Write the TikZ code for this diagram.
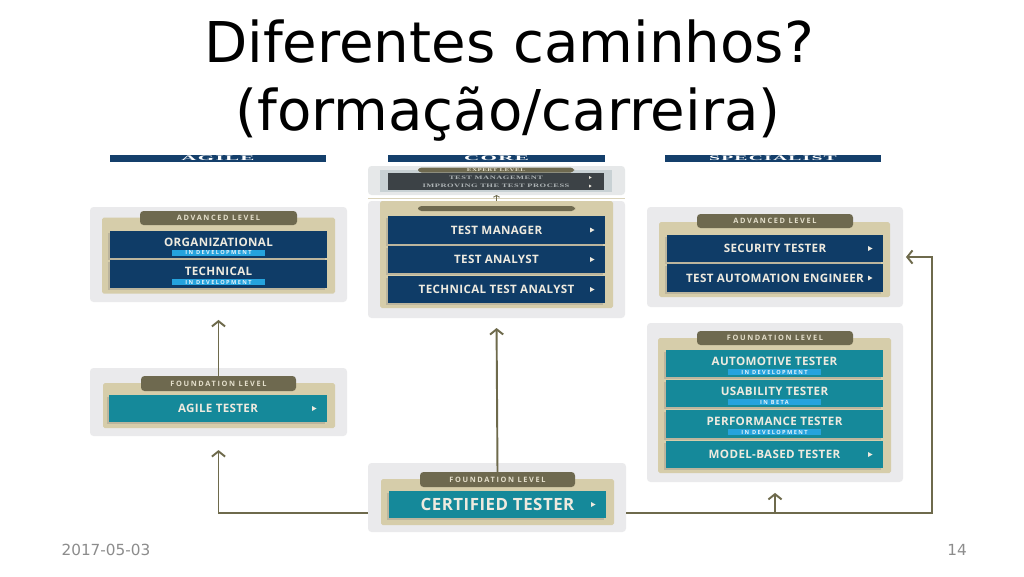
\documentclass[tikz,border=0pt]{standalone}
\usepackage{graphicx}
\usepackage{fontspec}
\setmainfont{DejaVu Sans}
\newfontfamily\rowfont[LetterSpace=3]{Open Sans}
\newfontfamily\tagfont[LetterSpace=22]{Open Sans}
\newfontfamily\pillfont[LetterSpace=25]{Open Sans}
\newfontfamily\trackfont[LetterSpace=6]{Liberation Serif}
\usetikzlibrary{arrows.meta,positioning,calc,shadows}
\definecolor{panelgray}{HTML}{EAEAEC}
\definecolor{traybeige}{HTML}{D6CDAA}
\definecolor{tagolive}{HTML}{6E694F}
\definecolor{tagink}{HTML}{E4DFCB}
\definecolor{rowblue}{HTML}{0F3C67}
\definecolor{rowteal}{HTML}{15899A}
\definecolor{rowink}{HTML}{EEEADF}
\definecolor{pillblue}{HTML}{25A3DD}
\definecolor{pillink}{HTML}{E2F2FA}
\definecolor{barblue}{HTML}{143F6B}
\definecolor{exppanel}{HTML}{E6E8E9}
\definecolor{expback}{HTML}{C8D1D4}
\definecolor{expgray}{HTML}{3C4246}
\definecolor{expink}{HTML}{AEB4B6}
\definecolor{sepbeige}{HTML}{D9D2BA}
\definecolor{linkolive}{HTML}{6E6A4C}
\definecolor{footgray}{HTML}{8C8C8C}
\tikzset{
  sz/.style 2 args={minimum width=#1*0.02cm,minimum height=#2*0.02cm,
                    inner sep=0pt,outer sep=0pt},
  titletext/.style={font=\fontsize{32}{38}\selectfont,text=black},
  foottext/.style={font=\fontsize{8.7}{10}\selectfont,text=footgray},
  panel/.style={fill=panelgray,rounded corners=2pt},
  tray/.style={fill=traybeige,rounded corners=1pt},
  lvltag/.style={fill=tagolive,rounded corners=2pt,text=tagink,
                 font=\tagfont\bfseries\fontsize{4.2}{5}\selectfont},
  advrow/.style={fill=rowblue,text=rowink,
                 font=\rowfont\bfseries\fontsize{6.6}{8}\selectfont,
                 drop shadow={shadow xshift=-1.2pt,shadow yshift=-1.2pt,opacity=0.3}},
  fndrow/.style={advrow,fill=rowteal},
  pill/.style={fill=pillblue,text=pillink,
               font=\pillfont\bfseries\fontsize{3.2}{3.6}\selectfont},
  trackbar/.style={fill=barblue,text=white,
                   font=\trackfont\bfseries\fontsize{4}{4}\selectfont},
  exprow/.style={fill=expgray,text=expink,
                 font=\trackfont\bfseries\fontsize{3}{3.5}\selectfont},
  link/.style={draw=linkolive,line width=1.1pt,
               -{Straight Barb[length=3pt,width=7.5pt]}}
}
% small triangle at the right end of a row
\newcommand{\rowtip}[2][2.5]{%
  \fill[rowink] ($(#2.east)+(-15,-#1)$) -- ++(0,2*#1) -- ++(1.8*#1,-#1) -- cycle;}
% row title lifted above its pill
\newcommand{\uptext}[1]{\raisebox{1.3pt}[\height][\depth]{#1}}

\begin{document}
\begin{tikzpicture}[x=0.02cm,y=-0.02cm]
  \fill[white] (0,0) rectangle (1024,576);
  \useasboundingbox (0,0) rectangle (1024,576);

  \node[titletext,anchor=base] (title1) at (509,62) {Diferentes caminhos?};
  \node[titletext,anchor=base] (title2) at (508,130) {(formação/carreira)};

  % track headers
  \node[trackbar,sz={216}{7}] (agilebar) at (218,158.5) {\scalebox{3}[1]{AGILE}};
  \node[trackbar,sz={217}{7}] (corebar) at (496.5,158.5) {\scalebox{3}[1]{CORE}};
  \node[trackbar,sz={216}{7}] (specbar) at (773,158.5) {\scalebox{2.8}[1]{SPECIALIST}};

  % agile
  \node[panel,sz={257}{95}] (agadv) at (218.5,254.5) {};
  \node[tray,sz={233}{76}] (agadvtray) at (218.5,255.5) {};
  \node[lvltag,sz={157}{14}] (agadvtag) at (218.5,218) {ADVANCED LEVEL};
  \node[advrow,sz={217}{27}] (orgrow) at (218.5,244.5) {\uptext{ORGANIZATIONAL}};
  \node[pill,sz={93}{6}] (orgpill) at (218.5,252.5) {IN DEVELOPMENT};
  \node[advrow,sz={217}{28}] (techrow) at (218.5,274) {\uptext{TECHNICAL}};
  \node[pill,sz={93}{6}] (techpill) at (218.5,282) {IN DEVELOPMENT};

  \node[panel,sz={257}{68}] (agfnd) at (218.5,402) {};
  \node[tray,sz={232}{45}] (agfndtray) at (219,405.5) {};
  \node[lvltag,sz={155}{15}] (agfndtag) at (218.5,383.5) {FOUNDATION LEVEL};
  \node[fndrow,sz={218}{27}] (agilerow) at (218,408.5) {AGILE TESTER};
  \rowtip{agilerow}

  % core
  \node[panel,fill=exppanel,sz={257}{29}] (expertpanel) at (496.5,180.5) {};
  \node[fill=expback,sz={232}{22}] (expertback) at (496,181) {};
  \node[lvltag,sz={156}{5},font=\trackfont\bfseries\fontsize{2.5}{3}\selectfont]
    (experttag) at (496,170) {\scalebox{1.6}[1]{EXPERT LEVEL}};
  \node[exprow,sz={216}{9}] (mgmtrow) at (496,177.5) {\scalebox{1.6}[1]{TEST MANAGEMENT}};
  \node[exprow,sz={216}{8}] (itprow) at (496,186) {\scalebox{1.6}[1]{IMPROVING THE TEST PROCESS}};
  \rowtip[1.5]{mgmtrow}
  \rowtip[1.5]{itprow}
  \draw[draw=sepbeige,line width=0.5pt] (368,198.5) -- (625,198.5);

  \node[panel,sz={257}{117}] (coremain) at (496.5,259.5) {};
  \node[tray,sz={233}{107}] (coretray) at (496.5,254.5) {};
  \node[lvltag,sz={157}{5}] (coretag) at (496.5,208.5) {};
  \node[advrow,sz={217}{28}] (mgrrow) at (496.5,230) {TEST MANAGER};
  \node[advrow,sz={217}{27}] (tarow) at (496.5,259.5) {TEST ANALYST};
  \node[advrow,sz={217}{27}] (ttarow) at (496.5,289.5) {TECHNICAL TEST ANALYST};
  \rowtip{mgrrow}
  \rowtip{tarow}
  \rowtip{ttarow}

  \node[panel,sz={258}{69}] (cert) at (497,497.5) {};
  \node[tray,sz={233}{46}] (certtray) at (497.5,502) {};
  \node[lvltag,sz={155}{15}] (certtag) at (497.5,479.5) {FOUNDATION LEVEL};
  \node[fndrow,sz={217}{27},font=\rowfont\bfseries\fontsize{9.6}{11}\selectfont]
    (certrow) at (497.5,504.5) {CERTIFIED TESTER};
  \rowtip{certrow}

  % specialist
  \node[panel,sz={256}{100}] (spadv) at (775,257) {};
  \node[tray,sz={231}{75}] (spadvtray) at (774.5,259.5) {};
  \node[lvltag,sz={156}{14}] (spadvtag) at (775,221) {ADVANCED LEVEL};
  \node[advrow,sz={216}{27}] (secrow) at (775,248.5) {SECURITY TESTER};
  \node[advrow,sz={216}{28}] (taerow) at (775,278) {TEST AUTOMATION ENGINEER};
  \rowtip{secrow}
  \rowtip{taerow}

  \node[panel,sz={256}{159}] (spfnd) at (775,402.5) {};
  \node[tray,sz={233}{135}] (spfndtray) at (774.5,405.5) {};
  \node[lvltag,sz={156}{14}] (spfndtag) at (775,338) {FOUNDATION LEVEL};
  \node[fndrow,sz={217}{27}] (autorow) at (774.5,363.5) {\uptext{AUTOMOTIVE TESTER}};
  \node[pill,sz={93}{6}] (autopill) at (774.5,372) {IN DEVELOPMENT};
  \node[fndrow,sz={217}{27}] (usabrow) at (774.5,393.5) {\uptext{USABILITY TESTER}};
  \node[pill,sz={93}{6}] (usabpill) at (774.5,402) {IN BETA};
  \node[fndrow,sz={217}{28}] (perfrow) at (774.5,424) {\uptext{PERFORMANCE TESTER}};
  \node[pill,sz={93}{6}] (perfpill) at (774.5,432) {IN DEVELOPMENT};
  \node[fndrow,sz={217}{27}] (mbtrow) at (774.5,454.5) {MODEL-BASED TESTER};
  \rowtip{mbtrow}

  % paths
  \draw[link,line width=0.5pt,-{Straight Barb[length=1pt,width=3.5pt]}]
    (coretray.north) -- (expertpanel.south);
  \draw[link,shorten >=10.2pt] (agfndtag.north) -- (agadv.south);
  \draw[link,shorten >=5.7pt] (certtag.north) -- (coremain.south);
  \coordinate (ljoin) at ($(cert.west)+(0,15.5)$);
  \coordinate (rjoin) at ($(cert.east)+(0,15.5)$);
  \coordinate (rturn) at ($(spadv.east)+(29,0)$);
  \draw[link,shorten >=8pt] (ljoin) -| (agfnd.south);
  \draw[link,shorten >=1.7pt] (rjoin) -| (rturn) -- (spadv.east);
  \draw[link,shorten >=6.2pt] (spfnd.south |- rjoin) -- (spfnd.south);

  \node[foottext,anchor=base] (datefoot) at (106,555) {2017-05-03};
  \node[foottext,anchor=base] (pagefoot) at (957,555) {14};
\end{tikzpicture}
\end{document}
